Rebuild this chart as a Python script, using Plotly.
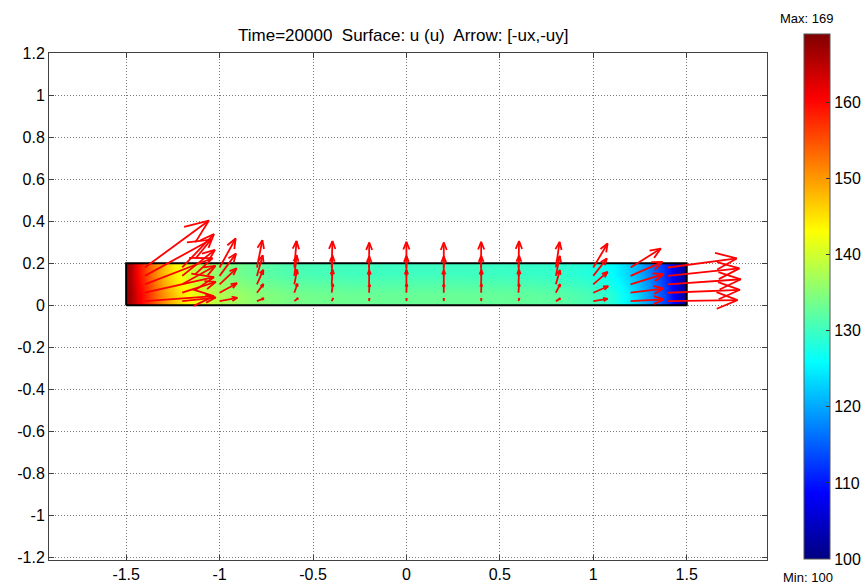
import math
import plotly.graph_objects as go

# ---- temperature field u on the strip [-1.5, 1.5] x [0, 0.2] ----
X_EDGES = [-1.5, -1.47, -1.44, -1.4, -1.35, -1.3, -1.25, -1.2, -1.15, -1.1, -1.05, -1.0,
           -0.9, -0.8, -0.7, -0.6, -0.4, -0.2, 0.0, 0.2, 0.4, 0.6, 0.8, 0.9, 1.0,
           1.05, 1.1, 1.15, 1.2, 1.25, 1.3, 1.35, 1.4, 1.44, 1.47, 1.5]
Y_EDGES = [0.0, 0.1, 0.2]
U_BOTTOM = [167.0, 164.0, 160.5, 156.5, 152.5, 149.0, 146.0, 143.5, 141.5, 140.0, 138.7,
            137.2, 135.8, 134.8, 134.2, 133.6, 133.2, 133.0, 133.0, 133.0, 132.8, 132.4,
            131.8, 131.0, 130.0, 129.0, 127.6, 125.8, 123.5, 120.8, 117.6, 113.8, 109.8,
            106.0, 102.0]
U_TOP = [166.5, 162.5, 158.5, 154.0, 149.8, 146.0, 143.0, 140.5, 138.5, 137.0, 135.8,
         134.3, 133.0, 132.0, 131.3, 130.7, 130.3, 130.1, 130.1, 130.1, 129.9, 129.5,
         129.0, 128.3, 127.4, 126.5, 125.2, 123.5, 121.4, 118.9, 115.9, 112.4, 108.7,
         105.2, 101.8]
U_MIN, U_MAX = 100, 169

# ---- arrow field [-ux, -uy] sampled on a 15 x 5 grid ----
ARROW_X = [-1.4, -1.2, -1.0, -0.8, -0.6, -0.4, -0.2, 0.0, 0.2, 0.4, 0.6, 0.8, 1.0, 1.2, 1.4]
ARROW_Y = [0.02, 0.06, 0.10, 0.14, 0.18]
NEG_UX = [
    [0.370, 0.180, 0.095, 0.037, 0.020, 0.008, 0.002, 0.001, 0.000, 0.001, 0.004, 0.024, 0.077, 0.177, 0.372],
    [0.370, 0.180, 0.093, 0.035, 0.017, 0.006, 0.002, 0.001, 0.000, 0.001, 0.003, 0.023, 0.080, 0.177, 0.385],
    [0.362, 0.178, 0.091, 0.034, 0.015, 0.005, 0.001, 0.000, 0.000, 0.001, 0.003, 0.022, 0.077, 0.177, 0.390],
    [0.355, 0.175, 0.088, 0.031, 0.013, 0.004, 0.001, 0.000, 0.000, 0.000, 0.003, 0.021, 0.073, 0.171, 0.382],
    [0.343, 0.170, 0.086, 0.029, 0.012, 0.004, 0.001, 0.000, 0.000, 0.000, 0.003, 0.020, 0.077, 0.162, 0.368],
]
NEG_UY = [
    [0.024, 0.017, 0.016, 0.013, 0.014, 0.014, 0.013, 0.013, 0.013, 0.013, 0.014, 0.013, 0.011, 0.008, 0.005],
    [0.074, 0.052, 0.045, 0.041, 0.043, 0.042, 0.040, 0.041, 0.040, 0.041, 0.042, 0.041, 0.031, 0.020, 0.014],
    [0.124, 0.088, 0.076, 0.069, 0.070, 0.069, 0.067, 0.068, 0.067, 0.068, 0.069, 0.068, 0.059, 0.048, 0.024],
    [0.173, 0.124, 0.106, 0.098, 0.098, 0.097, 0.093, 0.095, 0.093, 0.095, 0.097, 0.095, 0.083, 0.067, 0.036],
    [0.223, 0.159, 0.138, 0.130, 0.126, 0.126, 0.119, 0.122, 0.119, 0.122, 0.126, 0.122, 0.114, 0.090, 0.043],
]

# ---- axes ----
X_TICKS = [-1.5, -1.0, -0.5, 0.0, 0.5, 1.0, 1.5]
X_TICK_TEXT = ["-1.5", "-1", "-0.5", "0", "0.5", "1", "1.5"]
Y_TICKS = [1.2, 1.0, 0.8, 0.6, 0.4, 0.2, 0.0, -0.2, -0.4, -0.6, -0.8, -1.0, -1.2]
Y_TICK_TEXT = ["1.2", "1", "0.8", "0.6", "0.4", "0.2", "0", "-0.2", "-0.4", "-0.6",
               "-0.8", "-1", "-1.2"]
CB_TICKS = [100, 110, 120, 130, 140, 150, 160]

TITLE = "Time=20000  Surface: u (u)  Arrow: [-ux,-uy]"

# MATLAB-style jet colour map
JET = [[0.0, "rgb(0,0,128)"], [0.125, "rgb(0,0,255)"], [0.375, "rgb(0,255,255)"],
       [0.625, "rgb(255,255,0)"], [0.875, "rgb(255,0,0)"], [1.0, "rgb(128,0,0)"]]

W, H = 865, 586
ML, MR, MT, MB = 49, 98, 53, 26
PLOT_W, PLOT_H = W - ML - MR, H - MT - MB
X_RANGE = [-1.913, 1.93]
Y_RANGE = [-1.211, 1.2]
SX = PLOT_W / (X_RANGE[1] - X_RANGE[0])
SY = PLOT_H / (Y_RANGE[1] - Y_RANGE[0])

FONT = "Liberation Sans, Arial, Helvetica, sans-serif"

fig = go.Figure()

fig.add_trace(go.Heatmap(
    x=X_EDGES, y=Y_EDGES, z=[U_BOTTOM, U_TOP],
    zsmooth="best", colorscale=JET, zmin=U_MIN, zmax=U_MAX,
    hoverinfo="skip",
    colorbar=dict(
        thickness=26, len=525, lenmode="pixels",
        x=(804 - ML) / PLOT_W, xanchor="left", xpad=0,
        y=(H - MB - 34) / PLOT_H, yanchor="top", ypad=0,
        outlinewidth=1, outlinecolor="#555",
        tickvals=CB_TICKS, ticks="inside", ticklen=4, tickcolor="#333",
        tickfont=dict(family=FONT, size=16, color="black"),
    ),
))

# outline of the strip
fig.add_trace(go.Scatter(
    x=[X_EDGES[0], X_EDGES[-1], X_EDGES[-1], X_EDGES[0], X_EDGES[0]],
    y=[Y_EDGES[0], Y_EDGES[0], Y_EDGES[-1], Y_EDGES[-1], Y_EDGES[0]],
    mode="lines", line=dict(color="black", width=2),
    hoverinfo="skip", showlegend=False,
))

# arrows: shaft plus two barbs, head sized relative to the arrow length on screen
ax_pts, ay_pts = [], []
for r, y0 in enumerate(ARROW_Y):
    for c, x0 in enumerate(ARROW_X):
        dx, dy = NEG_UX[r][c], NEG_UY[r][c]
        px, py = dx * SX, dy * SY
        L = math.hypot(px, py)
        if L == 0:
            continue
        ux, uy = px / L, py / L
        hl, hw = 0.3 * L, 0.12 * L
        x1, y1 = x0 + dx, y0 + dy
        b1 = (x1 + (-hl * ux - hw * uy) / SX, y1 + (-hl * uy + hw * ux) / SY)
        b2 = (x1 + (-hl * ux + hw * uy) / SX, y1 + (-hl * uy - hw * ux) / SY)
        ax_pts += [x0, x1, None, b1[0], x1, b2[0], None]
        ay_pts += [y0, y1, None, b1[1], y1, b2[1], None]

fig.add_trace(go.Scatter(
    x=ax_pts, y=ay_pts, mode="lines",
    line=dict(color="#ff0000", width=1.8),
    hoverinfo="skip", showlegend=False,
))

axis_common = dict(
    showgrid=True, gridcolor="#7a7a7a", griddash="1px,2px", gridwidth=1,
    zeroline=False, showline=True, linecolor="#404040", linewidth=1,
    mirror="ticks", ticks="inside", ticklen=5, tickcolor="#404040",
    tickfont=dict(family=FONT, size=16, color="black"),
    automargin=False,
)
fig.update_xaxes(range=X_RANGE, tickvals=X_TICKS, ticktext=X_TICK_TEXT, **axis_common)
fig.update_yaxes(range=Y_RANGE, tickvals=Y_TICKS, ticktext=Y_TICK_TEXT, **axis_common)

label_x = (835 - ML) / PLOT_W
fig.add_annotation(text=TITLE, xref="paper", yref="paper", x=0.5, y=1, yanchor="middle",
                   xshift=-5, yshift=18, showarrow=False,
                   font=dict(family=FONT, size=17, color="black"))
fig.add_annotation(text="Max: 169", xref="paper", yref="paper", x=label_x, y=1,
                   yanchor="middle", yshift=35, showarrow=False,
                   font=dict(family=FONT, size=13, color="black"))
fig.add_annotation(text="Min: 100", xref="paper", yref="paper", x=label_x, y=0,
                   yanchor="middle", yshift=-17, showarrow=False,
                   font=dict(family=FONT, size=13, color="black"))

fig.update_layout(
    width=W, height=H, autosize=False,
    margin=dict(l=ML, r=MR, t=MT, b=MB, autoexpand=False),
    paper_bgcolor="white", plot_bgcolor="white",
    showlegend=False,
)

fig.write_html("out.html")
